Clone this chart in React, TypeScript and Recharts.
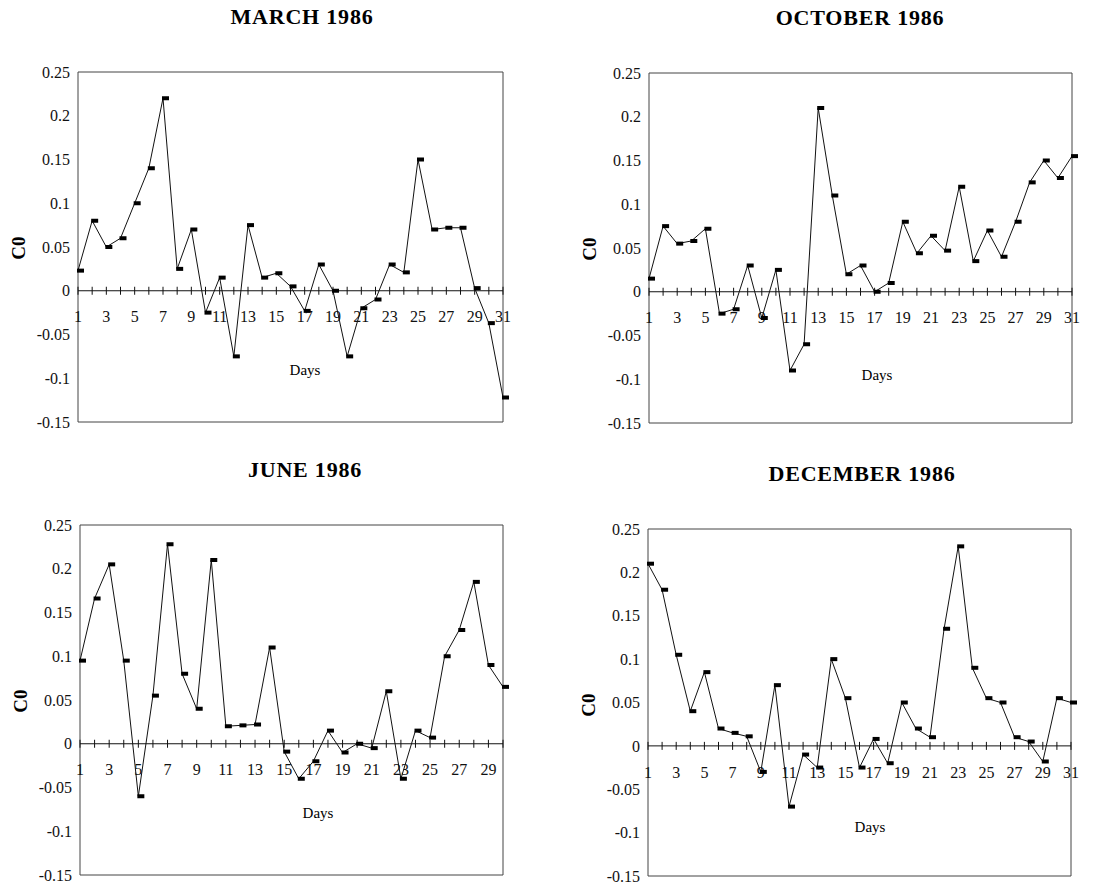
import React from "react";
import {
  LineChart,
  Line,
  XAxis,
  YAxis,
  ReferenceLine,
  ReferenceDot,
  ReferenceArea,
} from "recharts";

// C0 values read per day, one array per month
const march = [
  0.023, 0.08, 0.05, 0.06, 0.1, 0.14, 0.22, 0.025, 0.07, -0.025, 0.015,
  -0.075, 0.075, 0.015, 0.02, 0.005, -0.023, 0.03, 0, -0.075, -0.02, -0.01,
  0.03, 0.021, 0.15, 0.07, 0.072, 0.072, 0.003, -0.037, -0.122,
];

const october = [
  0.015, 0.075, 0.055, 0.058, 0.072, -0.025, -0.02, 0.03, -0.03, 0.025, -0.09,
  -0.06, 0.21, 0.11, 0.02, 0.03, 0, 0.01, 0.08, 0.044, 0.064, 0.047, 0.12,
  0.035, 0.07, 0.04, 0.08, 0.125, 0.15, 0.13, 0.155,
];

const june = [
  0.095, 0.166, 0.205, 0.095, -0.06, 0.055, 0.228, 0.08, 0.04, 0.21, 0.02,
  0.021, 0.022, 0.11, -0.009, -0.04, -0.02, 0.015, -0.01, 0, -0.005, 0.06,
  -0.04, 0.015, 0.007, 0.1, 0.13, 0.185, 0.09, 0.065,
];

const december = [
  0.21, 0.18, 0.105, 0.04, 0.085, 0.02, 0.015, 0.011, -0.03, 0.07, -0.07,
  -0.01, -0.025, 0.1, 0.055, -0.025, 0.008, -0.02, 0.05, 0.02, 0.01, 0.135,
  0.23, 0.09, 0.055, 0.05, 0.01, 0.005, -0.018, 0.055, 0.05,
];

const yTicks = [0.25, 0.2, 0.15, 0.1, 0.05, 0, -0.05, -0.1, -0.15];

const SERIF = "'Liberation Serif', 'Times New Roman', serif";

type PanelProps = {
  title: string;
  values: number[];
  plotX: number;
  plotY: number;
  plotW: number;
  plotH: number;
  titleX: number;
  daysX: number;
  daysY: number;
};

const ML = 78;
const MT = 72;

function Panel({ title, values, plotX, plotY, plotW, plotH, titleX, daysX, daysY }: PanelProps) {
  const data = values.map((v, i) => ({ day: i + 1, v }));
  const last = values.length;
  const days = data.map((d) => d.day);
  const width = ML + plotW + 40;
  const height = MT + plotH + 20;
  const left = plotX - ML;
  const top = plotY - MT;

  return (
    <div style={{ position: "absolute", left, top, width, height }}>
      <div
        style={{
          position: "absolute",
          left: titleX - 150,
          width: 300,
          top: MT - 55 - 13,
          textAlign: "center",
          fontFamily: SERIF,
          fontWeight: "bold",
          fontSize: 22,
          letterSpacing: 0.8,
          lineHeight: "26px",
        }}
      >
        {title}
      </div>
      <div
        style={{
          position: "absolute",
          left: ML - 59 - 20,
          top: MT + 176 - 10,
          width: 40,
          height: 20,
          textAlign: "center",
          lineHeight: "20px",
          transform: "rotate(-90deg)",
          fontFamily: SERIF,
          fontWeight: "bold",
          fontSize: 19,
        }}
      >
        C0
      </div>
      <div
        style={{
          position: "absolute",
          left: ML + daysX - 40,
          top: MT + daysY - 10,
          width: 80,
          textAlign: "center",
          lineHeight: "20px",
          fontFamily: SERIF,
          fontSize: 15,
        }}
      >
        Days
      </div>
      <LineChart
        width={width}
        height={height}
        data={data}
        margin={{ top: MT, right: 40, bottom: 20, left: 0 }}
        style={{ position: "absolute", left: 0, top: 0 }}
      >
        <XAxis type="number" dataKey="day" domain={[1, last]} hide height={0} />
        <YAxis
          type="number"
          domain={[-0.15, 0.25]}
          ticks={yTicks}
          width={ML}
          axisLine={false}
          tickLine={false}
          tickMargin={2}
          interval={0}
          tick={{ fill: "#111", fontSize: 16, fontFamily: SERIF }}
        />
        <ReferenceArea
          x1={1}
          x2={last}
          y1={-0.15}
          y2={0.25}
          fill="none"
          stroke="#444"
          strokeWidth={1}
        />
        <ReferenceLine y={0} stroke="#111" strokeWidth={1} />
        {days.map((d) => (
          <ReferenceDot
            key={d}
            x={d}
            y={0}
            shape={(p: any) => (
              <g>
                <line x1={p.cx} x2={p.cx} y1={p.cy - 4} y2={p.cy + 4} stroke="#111" strokeWidth={1} />
                {d % 2 === 1 && (
                  <text
                    x={p.cx}
                    y={p.cy + 28}
                    textAnchor="middle"
                    dominantBaseline="middle"
                    fontFamily={SERIF}
                    fontSize={16}
                    fill="#111"
                  >
                    {d}
                  </text>
                )}
              </g>
            )}
          />
        ))}
        <Line
          type="linear"
          dataKey="v"
          stroke="#111"
          strokeWidth={1}
          isAnimationActive={false}
          dot={(p: any) => (
            <rect key={p.index} x={p.cx - 1} y={p.cy - 2} width={7} height={4} fill="#000" />
          )}
          activeDot={false}
        />
      </LineChart>
    </div>
  );
}

export default function App() {
  return (
    <div style={{ position: "absolute", left: 0, top: 0, width: 1102, height: 885, background: "#fff" }}>
      <Panel title="MARCH 1986" values={march} plotX={78} plotY={72} plotW={425} plotH={350} titleX={302} daysX={227} daysY={298} />
      <Panel title="OCTOBER 1986" values={october} plotX={649} plotY={73} plotW={423} plotH={350} titleX={289} daysX={228} daysY={302} />
      <Panel title="JUNE 1986" values={june} plotX={80} plotY={525} plotW={423} plotH={350} titleX={303} daysX={238} daysY={288} />
      <Panel title="DECEMBER 1986" values={december} plotX={648} plotY={529} plotW={423} plotH={347} titleX={292} daysX={222} daysY={298} />
    </div>
  );
}
